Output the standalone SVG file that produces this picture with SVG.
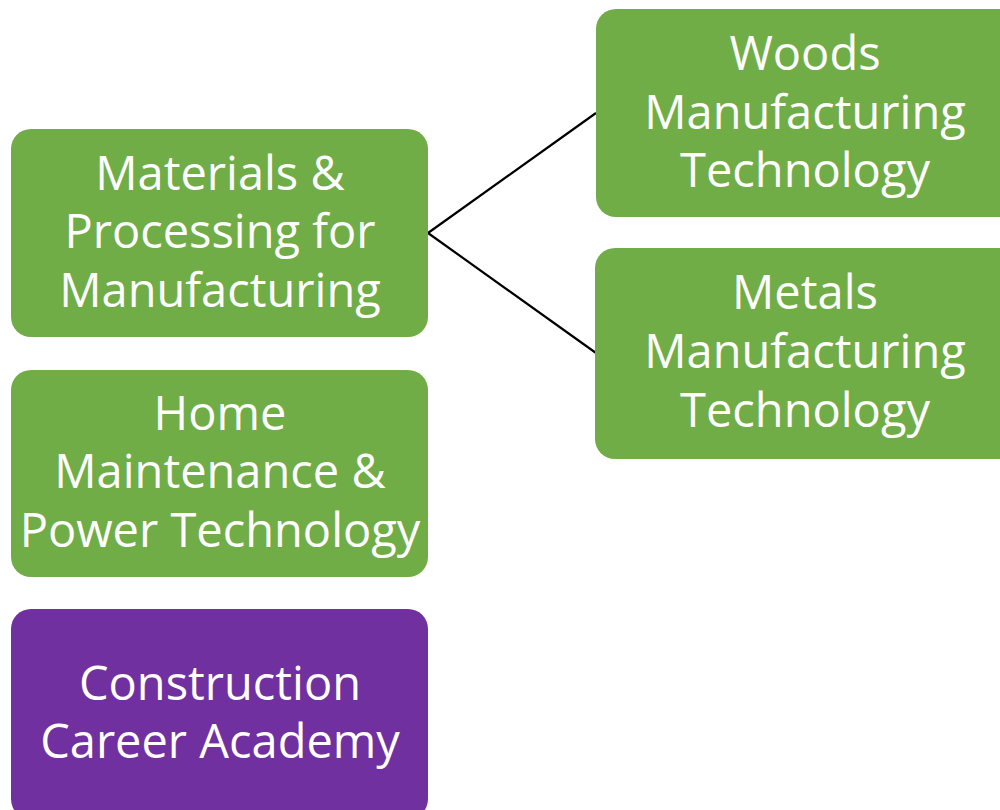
<svg xmlns="http://www.w3.org/2000/svg" width="1000" height="810" viewBox="0 0 1000 810">
<style>
.g{fill:#70AD47}
.p{fill:#7030A0}
.t{font-family:"Open Sans","Liberation Sans",sans-serif;font-size:47px;fill:#FFFFFF;text-anchor:middle}
.c{stroke:#000000;stroke-width:2.2;fill:none}
</style>
<rect width="1000" height="810" fill="#FFFFFF"/>
<g id="connectors">
<path class="c" d="M428,233 L596,113"/>
<path class="c" d="M428,233 L596,353"/>
</g>
<g id="materials">
<rect class="g" x="11" y="129" width="417" height="208" rx="20"/>
<text class="t" x="220" y="190">Materials &amp;</text>
<text class="t" x="220" y="248">Processing for</text>
<text class="t" x="220" y="307">Manufacturing</text>
</g>
<g id="home">
<rect class="g" x="11" y="370" width="417" height="207" rx="20"/>
<text class="t" x="220" y="430">Home</text>
<text class="t" x="220" y="488">Maintenance &amp;</text>
<text class="t" x="220" y="547">Power Technology</text>
</g>
<g id="construction">
<rect class="p" x="11" y="609" width="417" height="210" rx="20"/>
<text class="t" x="220" y="700">Construction</text>
<text class="t" x="220" y="758">Career Academy</text>
</g>
<g id="woods">
<rect class="g" x="596" y="9" width="424" height="208" rx="20"/>
<text class="t" x="805" y="70">Woods</text>
<text class="t" x="805" y="129">Manufacturing</text>
<text class="t" x="805" y="187">Technology</text>
</g>
<g id="metals">
<rect class="g" x="595" y="248" width="425" height="211" rx="20"/>
<text class="t" x="805" y="309">Metals</text>
<text class="t" x="805" y="368">Manufacturing</text>
<text class="t" x="805" y="427">Technology</text>
</g>
</svg>
